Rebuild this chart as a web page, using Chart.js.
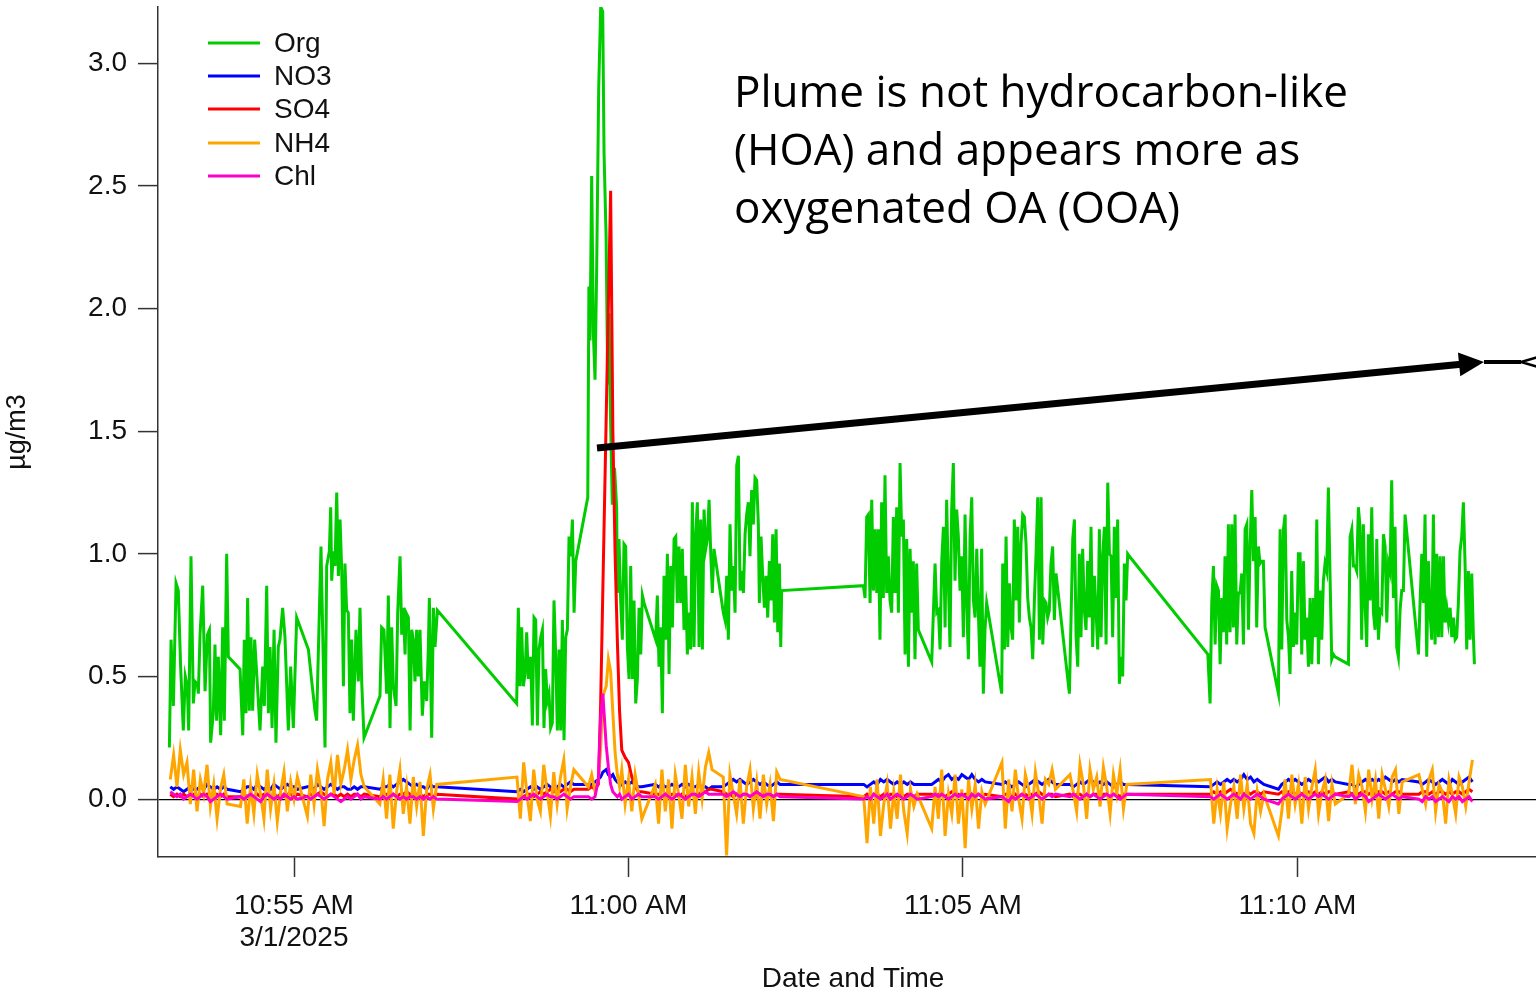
<!DOCTYPE html>
<html><head><meta charset="utf-8">
<script src="https://cdn.jsdelivr.net/npm/chart.js@4.4.1/dist/chart.umd.min.js"></script>
<style>
html,body{margin:0;padding:0;background:#fff;overflow:hidden;width:1536px;height:993px;}
#wrap{position:absolute;left:0;top:0;width:1560px;height:993px;}
</style></head><body>
<div id="wrap"><canvas id="c" width="1560" height="993"></canvas></div>
<script>
// ---- time axis: seconds relative to 10:55:00 AM, 3/1/2025 ----
const xTickSeconds = [0, 300, 600, 900];
const xTickLabels = [['10:55 AM', '3/1/2025'], ['11:00 AM'], ['11:05 AM'], ['11:10 AM']];
const yTickValues = [0, 0.5, 1.0, 1.5, 2.0, 2.5, 3.0];

const seriesLabels = ['Org', 'NO3', 'SO4', 'NH4', 'Chl'];
const seriesColors = ['#00CC00', '#0000FF', '#FF0000', '#FFA500', '#FF00CC'];
const annotationLines = ['Plume is not hydrocarbon-like', '(HOA) and appears more as', 'oxygenated OA (OOA)'];

// ---- Org (own time base) ----
const orgTime = [
-111.8,-110.3,-108.2,-105.8,-103.8,-101.7,-99.3,-97.5,-95.7,-94.5,
-92.4,-90.3,-88.8,-86.7,-85.8,-84.3,-81.9,-79.8,-77.7,-75.9,
-74.8,-72.4,-70.9,-69.4,-67.9,-65.8,-64.0,-62.5,-60.4,-58.9,
-48.4,-46.0,-44.6,-43.1,-41.6,-40.1,-38.6,-37.1,-35.3,-32.9,
-30.5,-28.1,-26.6,-24.5,-23.0,-21.5,-19.7,-17.9,-16.2,-14.1,
-12.6,-10.2,-8.1,-5.1,-3.0,-0.6,2.4,12.9,15.9,18.8,
20.3,24.2,27.8,29.3,31.7,32.9,33.8,35.3,36.8,38.3,
39.8,41.3,42.8,44.3,45.7,47.2,48.7,50.2,51.7,53.2,
55.6,57.7,59.2,60.7,62.8,77.1,78.6,80.7,83.1,84.6,
86.1,87.6,89.1,91.5,93.0,95.1,96.6,98.1,99.6,100.5,
102.6,104.1,105.6,107.0,108.5,110.0,111.5,113.0,115.1,116.9,
119.0,120.5,121.4,123.5,125.0,126.5,128.6,
199.7,201.2,202.7,204.2,205.7,207.2,208.7,210.2,212.3,213.8,
215.3,216.8,218.3,219.8,221.3,222.8,224.2,225.7,227.2,228.7,
230.2,231.7,233.2,234.7,236.2,237.7,239.2,240.7,242.2,243.7,
245.2,246.7,248.2,249.7,251.2,252.7,263.5,264.5,265.5,267.0,
268.5,270.0,271.5,273.3,275.1,276.9,278.1,279.9,281.4,282.6,
283.7,285.5,287.5,289.4,290.0,291.5,293.0,294.5,296.0,297.5,
299.0,300.5,302.0,303.5,305.0,306.5,308.0,309.5,311.0,312.5,
314.0,324.4,325.9,327.4,328.9,330.4,331.9,333.4,334.9,336.4,
337.9,339.4,340.9,342.4,343.8,345.3,346.8,348.3,349.8,351.3,
352.8,354.3,355.8,357.3,358.8,360.3,361.8,363.3,364.8,366.3,
367.8,369.3,370.8,372.3,373.8,375.2,376.7,385.1,386.6,388.1,
389.6,391.1,392.6,394.1,395.6,397.1,398.6,400.1,401.6,403.1,
404.6,406.0,407.5,409.0,410.5,412.0,413.5,415.0,416.5,417.4,
418.9,420.4,421.9,423.4,424.9,426.4,427.9,429.4,430.9,432.4,
433.9,435.4,436.6,437.4,
510.7,512.2,513.7,515.2,516.7,518.2,519.7,521.2,522.7,524.1,
525.6,527.1,528.6,530.1,531.6,533.1,534.6,536.1,537.6,539.1,
540.6,542.1,543.6,545.1,546.6,548.1,549.6,551.1,552.6,554.0,
555.5,557.0,558.5,560.0,572.0,575.0,576.5,578.0,579.5,581.0,
582.5,584.0,585.4,586.9,588.4,589.9,591.4,592.9,594.4,595.9,
597.4,598.9,600.4,601.9,603.4,604.9,606.4,607.9,609.4,610.9,
612.4,613.8,615.3,616.8,618.3,619.8,621.3,634.8,635.7,637.2,
638.7,640.2,641.7,643.2,644.6,646.1,647.6,649.1,650.6,652.1,
653.6,655.1,656.6,658.1,659.6,661.1,662.6,664.1,665.6,667.1,
668.6,670.1,671.6,673.1,674.5,676.0,677.5,679.0,680.5,682.0,
683.5,695.5,697.0,698.5,700.0,701.5,703.0,704.4,705.9,707.4,
708.9,710.4,711.9,713.4,714.9,716.4,717.9,719.4,720.9,722.4,
723.9,725.4,726.9,728.4,729.9,731.4,732.9,734.3,735.8,737.3,
738.8,740.3,741.8,743.3,744.8,746.3,747.8,749.3,
819.7,821.7,823.2,824.7,826.2,827.7,829.2,830.7,832.2,833.6,
835.1,836.6,838.1,839.6,841.1,842.6,844.1,845.6,847.1,848.6,
850.1,851.6,853.1,854.6,856.1,857.6,859.1,860.6,862.1,863.5,
865.0,866.5,868.0,869.5,871.0,883.0,884.5,886.0,887.5,889.0,
890.5,892.0,893.4,894.9,896.4,897.9,899.4,900.9,902.4,903.9,
905.4,906.9,908.4,909.9,911.4,912.9,914.4,915.9,917.4,918.9,
920.4,921.9,923.3,924.8,926.3,927.8,929.3,930.8,932.3,933.8,
945.8,947.3,948.8,950.3,951.8,953.2,954.7,956.2,957.7,959.2,
960.7,962.2,963.7,965.2,966.7,968.2,969.7,971.2,972.7,974.2,
975.7,977.2,978.7,980.2,981.7,983.1,984.6,986.1,987.6,989.1,
990.6,992.1,993.6,995.1,996.6,1008.6,1010.1,1011.6,1013.0,1014.5,
1016.0,1017.5,1019.0,1020.5,1022.0,1023.5,1025.0,1026.5,1028.0,1029.5,
1031.0,1032.5,1034.0,1035.5,1037.0,1038.5,1040.0,1041.5,1042.9,1044.4,
1045.9,1047.4,1048.9,1050.4,1051.9,1053.4,1054.9,1056.4,1057.9,1058.8
];
const org = [
0.21,0.65,0.38,0.88,0.85,0.54,0.28,0.50,0.46,0.28,
0.99,0.39,0.48,0.47,0.43,0.67,0.87,0.44,0.67,0.69,
0.23,0.35,0.63,0.32,0.58,0.26,0.70,0.32,1.00,0.58,
0.53,0.26,0.65,0.35,0.82,0.36,0.66,0.36,0.65,0.47,
0.28,0.54,0.38,0.87,0.35,0.62,0.29,0.69,0.23,0.62,
0.65,0.78,0.66,0.28,0.54,0.29,0.74,0.61,0.48,0.36,
0.32,1.03,0.21,0.95,1.01,1.19,0.89,1.01,0.95,1.25,
0.91,1.14,0.93,0.46,0.96,0.77,0.76,0.35,0.65,0.32,
0.69,0.48,0.78,0.48,0.25,0.42,0.70,0.69,0.43,0.83,
0.29,0.70,0.46,0.38,0.76,0.99,0.67,0.78,0.59,0.76,
0.74,0.28,0.69,0.65,0.48,0.69,0.50,0.69,0.34,0.48,
0.40,0.62,0.82,0.25,0.78,0.62,0.77,
0.39,0.78,0.46,0.70,0.46,0.51,0.68,0.49,0.58,0.30,
0.74,0.73,0.30,0.61,0.66,0.69,0.29,0.53,0.40,0.43,
0.29,0.31,0.81,0.59,0.28,0.61,0.28,0.73,0.24,0.66,
0.69,1.07,0.99,1.14,0.76,0.97,1.23,2.09,1.87,2.54,
1.90,1.71,2.17,2.90,3.23,3.21,2.63,2.30,1.69,1.98,
1.60,1.20,1.35,1.19,0.84,1.06,0.81,0.65,1.04,1.03,
0.62,0.49,0.95,0.49,0.81,0.39,0.49,0.78,0.59,0.83,
0.80,0.65,0.83,0.54,0.70,0.35,0.91,0.65,1.00,0.51,
0.95,0.70,1.06,1.07,0.80,1.03,0.80,1.02,0.69,0.91,
0.59,0.76,0.61,1.21,0.62,1.08,1.21,0.62,1.14,0.61,
1.18,1.02,1.06,1.22,1.00,0.84,1.02,0.76,0.73,0.91,
0.65,1.12,0.85,0.95,0.76,1.36,1.40,0.85,0.93,0.84,
1.08,1.16,1.21,0.99,1.26,1.12,1.31,1.30,1.12,0.80,
1.07,0.91,0.78,0.91,0.74,0.97,0.81,1.08,0.72,1.10,
0.68,0.96,0.62,0.85,
0.87,0.82,1.15,1.16,0.80,1.22,0.85,1.10,0.84,1.10,
0.65,1.21,0.82,1.32,0.84,0.99,0.81,0.76,1.15,0.84,
1.19,0.76,1.37,1.07,1.14,0.59,1.06,0.54,1.02,0.76,
0.97,0.57,0.96,0.69,0.56,0.96,0.76,0.77,0.61,0.97,
1.11,0.70,1.22,0.89,0.62,1.18,1.37,0.89,1.18,1.07,
0.85,0.99,0.66,1.16,0.80,0.57,1.07,1.23,0.81,0.74,
1.02,0.77,0.54,1.02,0.43,0.69,0.80,0.43,0.96,0.61,
1.07,0.62,0.88,0.70,0.65,1.14,0.81,1.11,0.72,1.04,
1.16,1.15,1.04,0.82,0.74,0.70,0.57,0.81,1.00,1.23,
0.65,1.23,0.63,0.81,0.80,0.74,0.77,0.96,1.03,0.73,
0.92,0.43,0.74,1.06,1.14,0.66,0.54,1.00,0.66,1.02,
0.77,0.69,0.97,0.74,1.11,0.62,0.91,0.77,0.61,1.10,
0.66,0.99,1.11,0.63,1.29,1.00,0.99,0.66,1.11,0.82,
1.14,0.47,0.58,0.50,0.96,0.81,1.00,0.99,
0.59,0.39,0.80,0.95,0.63,0.87,0.85,0.55,0.82,0.68,
0.99,0.63,1.12,0.68,1.12,0.70,1.16,0.63,0.84,0.84,
0.92,0.63,1.10,1.12,0.69,1.03,1.26,0.97,1.15,0.70,
1.03,0.96,0.97,0.97,0.70,0.43,1.10,0.61,1.10,1.16,
0.73,0.66,0.51,0.93,0.62,0.76,0.63,1.00,1.00,0.59,
0.97,0.65,0.74,0.54,0.82,0.55,0.82,0.66,1.14,0.55,
0.85,0.65,0.89,0.96,0.93,1.27,0.91,0.57,0.59,0.58,
0.55,1.07,1.10,0.95,0.95,0.93,1.19,1.11,0.65,1.12,
0.80,0.62,1.08,0.81,1.19,0.76,0.69,1.06,0.65,0.77,
0.76,1.08,1.03,0.72,0.96,0.93,1.30,0.82,1.11,0.62,
0.58,0.77,0.85,0.85,1.16,0.59,0.81,1.00,0.80,1.16,
0.58,0.97,0.76,0.65,1.16,0.63,1.00,0.66,0.99,0.66,
0.99,0.72,0.78,0.72,0.78,0.66,0.74,0.65,0.66,0.80,
1.01,1.07,1.21,0.96,0.61,0.93,0.65,0.92,0.66,0.55
];

// ---- inorganic species & chloride (shared time base) ----
const ionTime = [
-111,-108,-105,-102,-99,-96,-93,-90,-87,-84,-81,-78,-75,-72,-69,-66,-63,-60,
-48,-45,-42,-39,-36,-33,-30,-27,-24,-21,-18,-15,-12,-9,-6,-3,0,3,
12,15,18,21,24,27,30,33,36,39,42,45,48,51,54,57,60,63,
77,80,83,86,89,92,95,98,101,104,107,110,113,116,119,122,125,128,
200,203,206,209,212,215,218,221,224,227,230,233,236,239,242,245,248,251,
264,267,270,273,275,277,280,282,284,286,288,290,292,294,297,300,303,306,309,312,
324,327,330,333,336,339,342,345,348,351,354,357,360,363,366,369,372,375,
385,388,391,394,397,400,403,406,409,412,415,418,421,424,427,430,433,436,
511,514,517,520,523,526,529,532,535,538,541,544,547,550,553,556,559,
572,575,578,581,584,587,590,593,596,599,602,605,608,611,614,617,620,
635,638,641,644,647,650,653,656,659,662,665,668,671,674,677,680,683,
696,699,702,705,708,711,714,717,720,723,726,729,732,735,738,741,744,747,
822,825,828,831,834,837,840,843,846,849,852,855,858,861,864,867,870,
883,886,889,892,895,898,901,904,907,910,913,916,919,922,925,928,931,934,
946,949,952,955,958,961,964,967,970,973,976,979,982,985,988,991,994,
1009,1012,1015,1018,1021,1024,1027,1030,1033,1036,1039,1042,1045,1048,1051,1054,1057
];
const no3 = [
0.05,0.04,0.05,0.04,0.03,0.04,0.05,0.04,0.04,0.05,0.04,0.06,0.05,0.04,0.05,0.04,0.05,0.04,
0.03,0.04,0.05,0.05,0.04,0.06,0.05,0.04,0.05,0.04,0.06,0.05,0.04,0.05,0.06,0.05,0.05,0.04,
0.05,0.05,0.04,0.06,0.05,0.04,0.05,0.06,0.05,0.04,0.05,0.05,0.04,0.04,0.05,0.04,0.05,0.05,
0.04,0.05,0.05,0.06,0.05,0.06,0.07,0.08,0.07,0.06,0.05,0.06,0.05,0.05,0.04,0.06,0.05,0.05,
0.03,0.04,0.03,0.04,0.05,0.04,0.05,0.04,0.05,0.06,0.05,0.04,0.05,0.06,0.05,0.06,0.07,0.06,
0.06,0.06,0.07,0.08,0.09,0.11,0.12,0.10,0.09,0.10,0.08,0.07,0.08,0.06,0.07,0.06,0.07,0.06,0.05,0.05,
0.06,0.05,0.06,0.05,0.05,0.06,0.05,0.05,0.06,0.05,0.06,0.05,0.05,0.06,0.05,0.05,0.04,0.05,
0.05,0.06,0.07,0.08,0.07,0.08,0.07,0.06,0.07,0.08,0.07,0.06,0.07,0.06,0.05,0.06,0.07,0.06,
0.06,0.05,0.06,0.07,0.06,0.08,0.07,0.08,0.07,0.06,0.07,0.06,0.07,0.06,0.07,0.06,0.06,
0.06,0.07,0.08,0.07,0.09,0.10,0.08,0.09,0.08,0.10,0.09,0.08,0.10,0.08,0.07,0.08,0.07,
0.06,0.07,0.06,0.05,0.06,0.07,0.06,0.05,0.06,0.07,0.08,0.07,0.06,0.07,0.08,0.07,0.06,
0.06,0.05,0.06,0.07,0.06,0.07,0.08,0.07,0.06,0.07,0.06,0.07,0.06,0.05,0.06,0.07,0.06,0.06,
0.05,0.06,0.07,0.06,0.07,0.08,0.07,0.08,0.07,0.08,0.10,0.08,0.09,0.07,0.08,0.07,0.06,
0.04,0.06,0.07,0.08,0.07,0.08,0.07,0.06,0.07,0.08,0.07,0.08,0.07,0.08,0.09,0.07,0.08,0.07,
0.06,0.06,0.05,0.06,0.07,0.08,0.07,0.08,0.07,0.08,0.07,0.09,0.08,0.07,0.08,0.07,0.08,
0.07,0.06,0.07,0.08,0.07,0.06,0.07,0.08,0.07,0.06,0.08,0.07,0.06,0.07,0.08,0.09,0.07
];
const so4 = [
0.02,0.01,0.02,0.01,0.02,0.01,0.02,0.02,0.01,0.02,0.01,0.02,0.01,0.02,0.02,0.01,0.02,0.01,
0.01,0.02,0.01,0.02,0.01,0.02,0.01,0.02,0.02,0.01,0.02,0.01,0.02,0.01,0.02,0.02,0.01,0.02,
0.01,0.02,0.01,0.02,0.03,0.02,0.01,0.02,0.02,0.01,0.02,0.01,0.02,0.01,0.02,0.02,0.01,0.02,
0.01,0.02,0.02,0.01,0.02,0.01,0.02,0.02,0.03,0.02,0.01,0.02,0.02,0.01,0.02,0.02,0.01,0.02,
0.00,0.01,0.01,0.02,0.02,0.01,0.02,0.03,0.02,0.03,0.04,0.03,0.04,0.03,0.04,0.04,0.03,0.04,
0.04,0.05,0.04,0.06,0.38,0.85,1.55,2.02,2.48,1.50,1.00,0.65,0.36,0.20,0.17,0.15,0.09,0.05,0.03,0.03,
0.02,0.02,0.01,0.02,0.01,0.02,0.02,0.01,0.02,0.01,0.02,0.02,0.01,0.02,0.03,0.03,0.04,0.04,
0.03,0.02,0.02,0.01,0.02,0.01,0.02,0.02,0.01,0.02,0.01,0.02,0.02,0.01,0.02,0.01,0.02,0.02,
0.01,0.02,0.01,0.02,0.02,0.01,0.02,0.01,0.02,0.02,0.01,0.02,0.01,0.02,0.02,0.01,0.02,
0.02,0.01,0.02,0.02,0.01,0.02,0.03,0.02,0.02,0.01,0.02,0.02,0.01,0.02,0.02,0.01,0.02,
0.01,0.02,0.02,0.01,0.02,0.01,0.02,0.02,0.01,0.02,0.02,0.03,0.02,0.01,0.02,0.02,0.01,
0.02,0.01,0.02,0.02,0.01,0.02,0.01,0.02,0.02,0.01,0.02,0.02,0.01,0.02,0.02,0.01,0.02,0.02,
0.02,0.03,0.02,0.03,0.02,0.03,0.04,0.03,0.02,0.03,0.02,0.03,0.02,0.03,0.03,0.02,0.03,
0.02,0.03,0.02,0.03,0.03,0.02,0.03,0.02,0.03,0.03,0.02,0.03,0.02,0.03,0.02,0.03,0.03,0.02,
0.03,0.02,0.03,0.02,0.03,0.03,0.02,0.03,0.02,0.03,0.03,0.02,0.03,0.02,0.03,0.03,0.02,
0.02,0.03,0.03,0.02,0.03,0.02,0.03,0.03,0.02,0.03,0.02,0.03,0.03,0.02,0.03,0.04,0.03
];
const nh4 = [
0.08,0.18,0.05,0.20,0.10,0.15,-0.02,0.12,-0.05,0.08,0.02,0.14,-0.03,0.06,-0.08,0.04,0.10,-0.02,
-0.03,0.08,-0.10,0.05,-0.06,0.10,0.02,-0.08,0.12,-0.04,0.06,-0.09,0.03,0.11,-0.05,0.07,0.00,0.09,
-0.07,0.10,-0.02,0.12,0.04,-0.11,0.08,0.15,0.02,0.18,0.06,0.12,0.20,0.08,0.16,0.22,0.10,0.05,
-0.02,0.08,-0.08,0.10,-0.12,0.03,0.12,-0.06,0.05,-0.10,0.09,-0.03,0.07,-0.15,0.04,0.10,-0.04,0.06,
0.09,-0.08,0.15,0.02,-0.09,0.12,0.00,-0.05,0.14,0.03,-0.07,0.11,-0.02,0.09,0.16,-0.04,0.05,0.12,
0.05,0.10,0.03,0.08,0.20,0.42,0.46,0.57,0.52,0.35,0.19,0.10,0.05,0.12,-0.02,0.08,-0.05,0.10,0.02,-0.08,
0.06,-0.10,0.12,-0.05,0.08,-0.12,0.10,0.02,-0.08,0.14,-0.03,0.09,-0.06,0.11,0.00,0.13,0.19,0.12,
0.09,-0.23,0.10,0.02,-0.06,0.08,-0.10,0.05,0.12,-0.04,0.07,-0.08,0.10,-0.02,0.06,-0.09,0.11,0.08,
0.01,-0.18,0.05,-0.10,0.08,-0.15,-0.02,0.06,-0.12,0.03,-0.08,0.10,-0.05,-0.14,0.04,-0.03,0.02,
-0.12,0.05,-0.08,0.12,-0.15,0.02,-0.06,0.10,-0.10,0.04,-0.20,0.08,-0.04,0.06,-0.12,0.03,-0.02,
0.15,-0.12,0.08,-0.05,0.12,0.00,-0.08,0.10,0.04,-0.06,0.11,0.02,-0.10,0.08,0.06,0.12,0.04,
0.10,0.03,-0.05,0.14,0.06,-0.08,0.12,0.04,0.09,-0.03,0.13,0.05,-0.06,0.10,0.02,0.12,-0.04,0.06,
0.08,-0.10,0.04,-0.06,0.07,-0.12,-0.02,0.05,-0.08,0.10,-0.04,0.06,-0.10,-0.14,0.03,-0.05,0.02,
-0.15,-0.05,0.08,-0.08,0.10,-0.02,0.06,-0.10,0.09,-0.04,0.05,0.12,-0.06,0.03,0.08,-0.09,0.06,-0.02,
0.02,0.14,-0.02,0.10,0.05,-0.05,0.12,0.00,0.08,-0.08,0.10,0.04,-0.03,0.09,0.12,-0.06,0.07,
0.10,0.04,-0.02,0.08,0.12,-0.05,0.06,0.03,-0.10,0.08,0.02,-0.06,0.09,0.05,-0.03,0.07,0.16
];
const chl = [
0.03,0.02,0.01,0.02,0.00,0.01,0.02,0.01,0.00,0.01,0.02,0.01,-0.01,0.00,0.01,0.02,0.01,0.00,
0.01,0.00,0.01,0.02,0.01,0.00,-0.01,0.01,0.02,0.01,0.00,0.01,0.00,0.02,0.01,0.00,0.01,0.00,
0.01,0.00,0.01,0.02,0.01,0.00,0.01,0.02,0.01,0.00,-0.01,0.00,0.01,0.00,0.01,0.02,0.00,0.01,
0.00,0.01,0.00,0.01,0.02,0.01,0.00,0.01,0.00,0.01,0.01,0.00,0.01,0.00,0.01,0.00,0.01,0.00,
-0.01,0.00,0.01,0.00,0.01,0.02,0.01,0.00,0.01,0.02,0.01,0.01,0.00,0.01,0.02,0.01,0.00,0.01,
0.01,0.00,0.01,0.08,0.33,0.43,0.22,0.13,0.06,0.03,0.02,0.01,0.02,0.00,0.01,0.02,0.00,0.01,0.02,0.01,
0.01,0.00,0.01,0.02,0.01,0.00,0.01,0.02,0.01,0.00,0.01,0.02,0.02,0.01,0.02,0.03,0.02,0.02,
0.02,0.01,0.02,0.03,0.02,0.01,0.02,0.02,0.01,0.02,0.03,0.02,0.01,0.02,0.02,0.01,0.02,0.01,
0.00,0.01,0.00,0.02,0.01,0.00,0.01,0.02,0.00,0.01,0.02,0.01,0.00,0.01,0.02,0.01,0.00,
0.01,0.02,0.01,0.02,0.01,0.00,0.01,0.02,0.01,0.02,0.01,0.00,0.02,0.01,0.02,0.01,0.00,
0.01,0.00,-0.01,0.01,0.00,0.01,0.02,0.01,0.00,0.01,0.02,0.01,0.00,0.01,0.02,0.01,0.02,
0.01,0.02,0.01,0.00,0.01,0.02,0.01,0.02,0.01,0.00,0.01,0.02,0.01,0.02,0.01,0.00,0.01,0.02,
0.01,0.00,0.01,0.02,0.01,0.00,0.01,0.02,0.01,0.00,0.02,0.01,0.00,0.01,0.02,0.01,0.00,
-0.02,0.00,0.01,0.02,0.01,0.00,0.01,0.02,0.01,0.00,0.01,0.02,0.01,0.02,0.01,0.00,0.01,0.02,
0.01,0.02,0.00,0.01,0.02,0.01,-0.01,0.00,0.01,0.02,0.01,0.00,0.01,0.02,0.01,0.00,0.01,
0.00,-0.01,0.01,0.00,0.01,-0.01,0.00,0.01,0.00,-0.01,0.01,0.00,0.01,-0.01,0.00,0.01,-0.01
];

// ---------------- chart ----------------
const FONT = "'Liberation Sans', Arial, sans-serif";
const toPts = (xs, ys) => xs.map((x, i) => ({ x: x, y: ys[i] }));
const seriesData = [toPts(orgTime, org), toPts(ionTime, no3), toPts(ionTime, so4), toPts(ionTime, nh4), toPts(ionTime, chl)];

// drawn last-index first: put Chl on top, Org at the bottom
const datasets = [4, 3, 2, 1, 0].map(i => ({
  label: seriesLabels[i],
  data: seriesData[i],
  borderColor: seriesColors[i],
  backgroundColor: seriesColors[i],
  borderWidth: 3,
  pointRadius: 0,
  tension: 0,
  fill: false
}));

const legendPlugin = {
  id: 'insideLegend',
  afterDraw(chart) {
    const ctx = chart.ctx;
    ctx.save();
    ctx.font = '28px ' + FONT;
    ctx.textBaseline = 'middle';
    ctx.textAlign = 'left';
    const rows = [43, 76, 109, 143, 176];
    seriesLabels.forEach((lab, k) => {
      const y = rows[k];
      ctx.strokeStyle = seriesColors[k];
      ctx.lineWidth = 3;
      ctx.beginPath(); ctx.moveTo(208, y); ctx.lineTo(260, y); ctx.stroke();
      ctx.fillStyle = '#111';
      ctx.fillText(lab, 274, y + 1);
    });
    ctx.restore();
  }
};

const annotationPlugin = {
  id: 'annot',
  afterDraw(chart) {
    const ctx = chart.ctx;
    ctx.save();
    ctx.fillStyle = '#000';
    ctx.font = "44px 'Open Sans', 'Noto Sans', sans-serif";
    ctx.textBaseline = 'alphabetic';
    ctx.textAlign = 'left';
    const baselines = [107, 165, 223];
    annotationLines.forEach((t, k) => ctx.fillText(t, 734, baselines[k]));
    // arrow
    const x0 = 597, y0 = 448, xt = 1484, yt = 362;
    const ang = Math.atan2(yt - y0, xt - x0);
    const hl = 25, hw = 12;
    const bx = xt - hl * Math.cos(ang), by = yt - hl * Math.sin(ang);
    ctx.strokeStyle = '#000';
    ctx.lineWidth = 7;
    ctx.lineCap = 'butt';
    ctx.beginPath(); ctx.moveTo(x0, y0); ctx.lineTo(bx + 2 * Math.cos(ang), by + 2 * Math.sin(ang)); ctx.stroke();
    ctx.beginPath();
    ctx.moveTo(xt, yt);
    ctx.lineTo(bx - hw * Math.sin(ang), by + hw * Math.cos(ang));
    ctx.lineTo(bx + hw * Math.sin(ang), by - hw * Math.cos(ang));
    ctx.closePath(); ctx.fill();
    ctx.lineWidth = 4;
    ctx.beginPath(); ctx.moveTo(xt, yt); ctx.lineTo(1521, yt); ctx.stroke();
    ctx.lineWidth = 2.5;
    ctx.beginPath(); ctx.moveTo(1545, 355); ctx.lineTo(1521, yt); ctx.lineTo(1545, 369); ctx.stroke();
    ctx.restore();
  }
};

new Chart(document.getElementById('c'), {
  type: 'line',
  data: { datasets: datasets },
  options: {
    responsive: false,
    animation: false,
    devicePixelRatio: 1,
    layout: { autoPadding: false, padding: { top: 7, right: 12, left: 0, bottom: 0 } },
    plugins: { legend: { display: false }, tooltip: { enabled: false } },
    scales: {
      x: {
        type: 'linear',
        min: -122,
        max: 1124.8,
        afterBuildTicks: s => { s.ticks = xTickSeconds.map(v => ({ value: v })); },
        afterFit: s => { s.height = 136; s.paddingLeft = 0; s.paddingRight = 0; },
        ticks: {
          callback: (v, i) => xTickLabels[i],
          font: { family: FONT, size: 28, lineHeight: 1.15 },
          color: '#111',
          padding: 13,
          maxRotation: 0,
          autoSkip: false
        },
        grid: { drawOnChartArea: false, drawTicks: true, tickLength: 20, tickColor: '#333', tickWidth: 1.5 },
        border: { display: true, color: '#333', width: 1.5 },
        title: { display: true, text: 'Date and Time', font: { family: FONT, size: 28, lineHeight: 1 }, color: '#111', padding: 0 }
      },
      y: {
        type: 'linear',
        min: -0.236,
        max: 3.229,
        afterBuildTicks: s => { s.ticks = yTickValues.map(v => ({ value: v })); },
        afterFit: s => { s.width = 158; s.paddingTop = 0; s.paddingBottom = 0; },
        ticks: {
          callback: v => Number(v).toFixed(1),
          font: { family: FONT, size: 28 },
          color: '#111',
          padding: 11,
          autoSkip: false
        },
        grid: {
          drawOnChartArea: true,
          drawTicks: true,
          tickLength: 20,
          tickColor: '#333',
          tickWidth: 1.5,
          color: c => (c.tick && c.tick.value === 0) ? '#000' : 'rgba(0,0,0,0)',
          lineWidth: 1.2
        },
        border: { display: true, color: '#333', width: 1.5 },
        title: { display: true, text: 'µg/m3', font: { family: FONT, size: 27, lineHeight: 1 }, color: '#111', padding: { top: 4, bottom: 0 } }
      }
    }
  },
  plugins: [legendPlugin, annotationPlugin]
});
</script>
</body></html>
